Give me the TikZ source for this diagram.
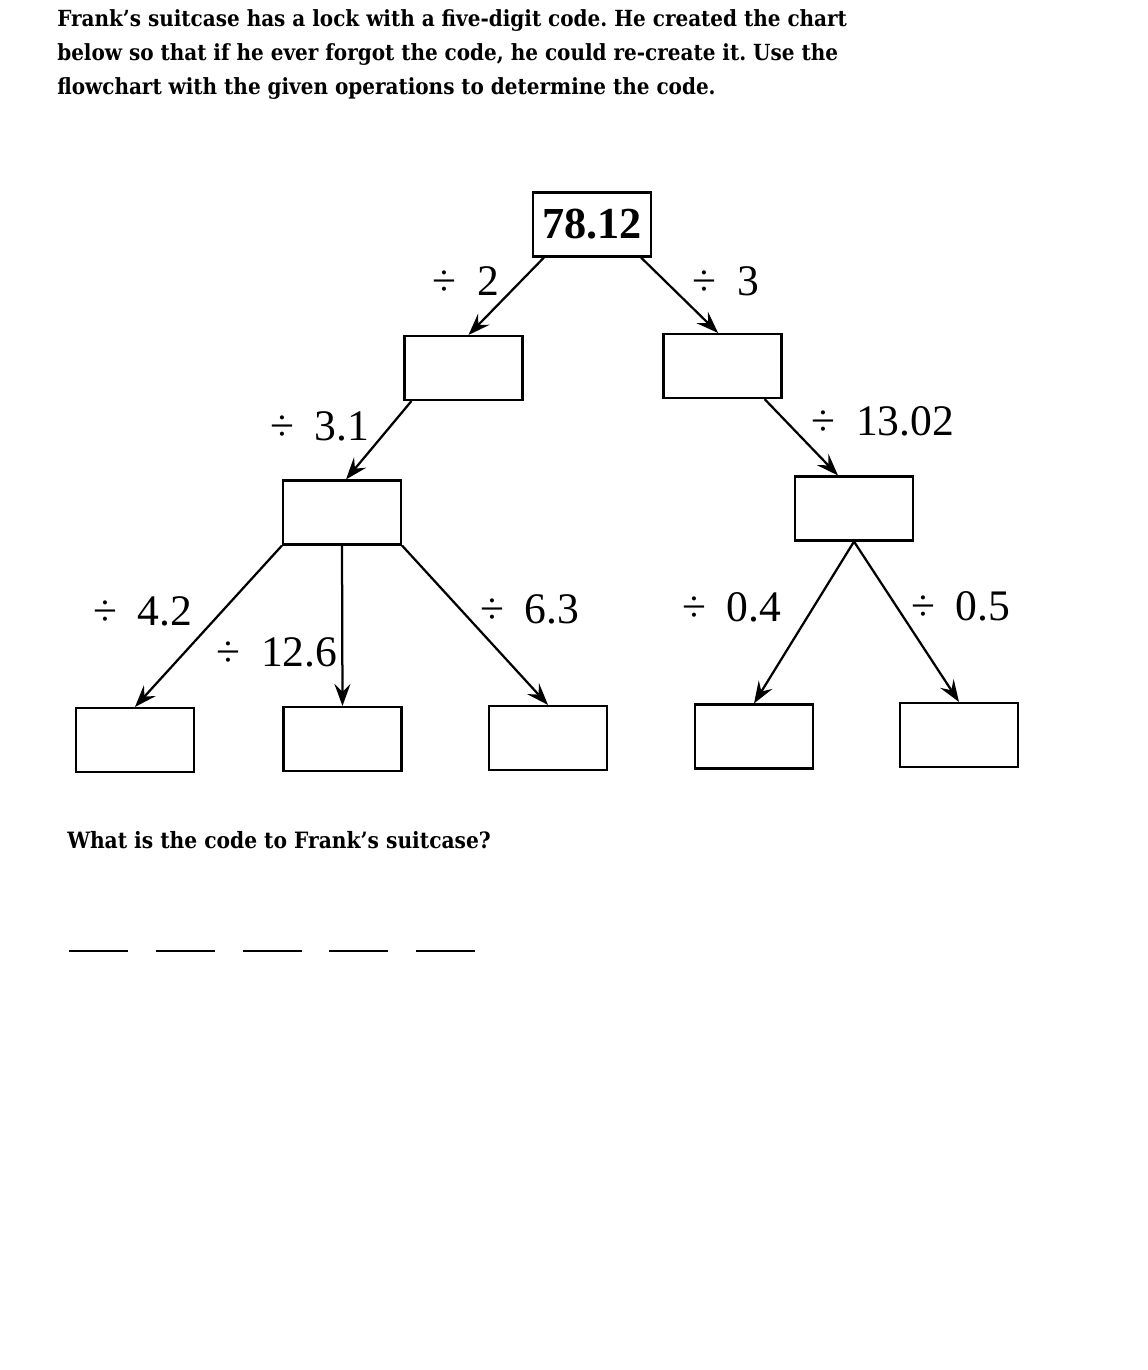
\documentclass[tikz,border=0pt]{standalone}
\usepackage{fontspec}
\setmainfont{Liberation Serif}
\newfontfamily\qfont{DejaVu Serif Condensed}
\newcommand{\dvd}[1]{÷\hspace{0.47em}#1}
\usetikzlibrary{arrows.meta}
\frenchspacing

\begin{document}
\begin{tikzpicture}[x=0.025cm,y=-0.025cm]
\tikzstyle{every node}=[font=\fontsize{31}{36}\selectfont]
\tikzstyle{box}=[draw,line width=1.5pt,minimum width=2.95cm,minimum height=1.6cm,inner sep=0pt]
\tikzstyle{link}=[line width=1.6pt,-{Stealth[length=5.5mm,width=4mm,inset=2mm]}]
\fill[white] (0,0) rectangle (1148,1370);
\useasboundingbox (0,0) rectangle (1148,1370);

\node[anchor=north west,inner sep=0pt,align=left,font=\qfont\bfseries\fontsize{15.8}{24.3}\selectfont] (intro) at (57,9)
  {Frank’s suitcase has a lock with a five-digit code. He created the chart\\
   below so that if he ever forgot the code, he could re-create it. Use the\\
   flowchart with the given operations to determine the code.};

\node[box,font=\bfseries\fontsize{31.5}{36}\selectfont] (n78) at (592,224.5) {78.12};
\node[box] (d2) at (463.5,368) {};
\node[box] (d3) at (722.5,366) {};
\node[box] (d31) at (342,512.5) {};
\node[box] (d1302) at (854,508.5) {};
\node[box] (d42) at (135,740) {};
\node[box] (d126) at (342.5,739) {};
\node[box] (d63) at (548,738) {};
\node[box] (d04) at (754,736.5) {};
\node[box] (d05) at (959,735) {};

\draw[link] ([xshift=0.3cm]n78.south west) -- ([xshift=0.125cm]d2.north);
\draw[link] ([xshift=-0.275cm]n78.south east) -- ([xshift=-0.11cm]d3.north);
\draw[link] ([xshift=0.2cm]d2.south west) -- ([xshift=0.1cm]d31.north);
\draw[link] ([xshift=-0.45cm]d3.south east) -- ([xshift=-0.4cm]d1302.north);
\draw[link] (d31.south west) -- (d42.north);
\draw[link] (d31.south) -- (d126.north);
\draw[link] (d31.south east) -- (d63.north);
\draw[link] (d1302.south) -- (d04.north);
\draw[link] (d1302.south) -- (d05.north);

% operations
\node (op2) at (466,281) {\dvd{2}};
\node (op3) at (726,281) {\dvd{3}};
\node (op31) at (320,426) {\dvd{3.1}};
\node (op1302) at (883,421) {\dvd{13.02}};
\node (op42) at (143,611) {\dvd{4.2}};
\node (op126) at (277,652) {\dvd{12.6}};
\node (op63) at (530,609) {\dvd{6.3}};
\node (op04) at (732,607) {\dvd{0.4}};
\node (op05) at (961,606) {\dvd{0.5}};

\node[anchor=base west,inner sep=0pt,font=\qfont\bfseries\fontsize{16}{18}\selectfont] (question) at (67,848)
  {What is the code to Frank’s suitcase?};
\foreach \x in {69,156,243,329,416}
  \draw[line width=1.5pt] (\x,951) -- ++(59,0);
\end{tikzpicture}
\end{document}
